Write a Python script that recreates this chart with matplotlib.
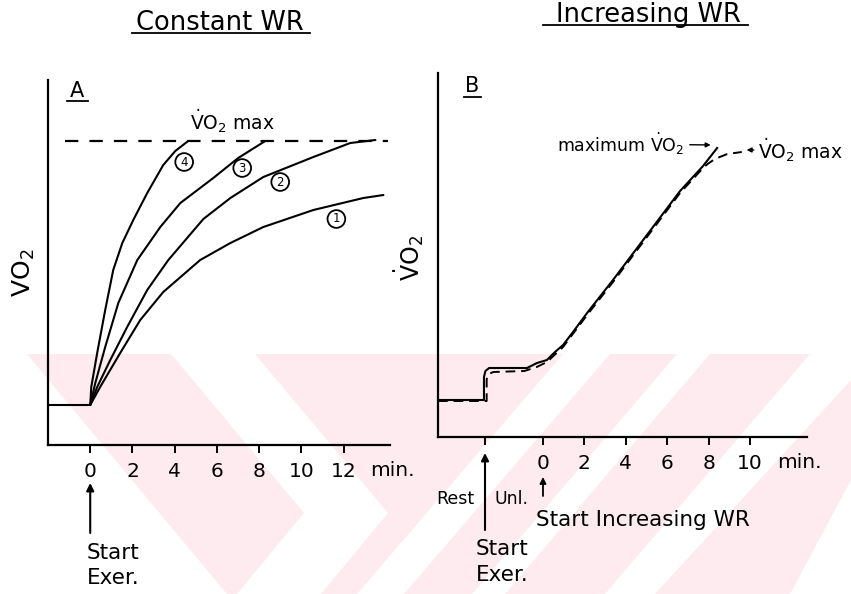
import matplotlib
matplotlib.use("Agg")
import matplotlib.pyplot as plt
from matplotlib.lines import Line2D
from matplotlib.patches import Polygon

W, H = 851, 594
plt.rcParams["font.family"] = ["DejaVu Sans"]
plt.rcParams["mathtext.fontset"] = "dejavusans"

# ---------------- Panel A: constant work rate ----------------
rest_a_t = [-2.0, 0.0]
rest_a_v = [0.40, 0.40]
vo2max_a_level = 3.04
vo2max_a_span = [-1.18, 14.1]

c1_t = [0, 0.47, 1.42, 2.37, 3.46, 5.21, 6.64, 8.20, 10.57, 12.94, 13.89]
c1_v = [0.40, 0.58, 0.92, 1.25, 1.53, 1.85, 2.02, 2.18, 2.35, 2.47, 2.50]
c2_t = [0, 0.33, 0.95, 1.75, 2.70, 3.70, 5.36, 6.64, 8.20, 10.57, 12.32, 13.51]
c2_v = [0.40, 0.58, 0.85, 1.18, 1.55, 1.85, 2.26, 2.47, 2.68, 2.88, 3.02, 3.05]
c3_t = [0, 0.24, 0.71, 1.33, 2.23, 3.32, 4.27, 5.83, 7.01, 8.29]
c3_v = [0.40, 0.62, 0.98, 1.42, 1.85, 2.18, 2.42, 2.67, 2.87, 3.04]
c4_t = [0, 0.05, 0.33, 0.71, 1.09, 1.52, 2.04, 2.70, 3.46, 4.03, 4.64]
c4_v = [0.40, 0.58, 0.92, 1.35, 1.75, 2.02, 2.25, 2.52, 2.80, 2.94, 3.04]
curve_labels = ["1", "2", "3", "4"]
curve_label_pos = [(11.66, 2.26), (9.0, 2.63), (7.2, 2.77), (4.45, 2.83)]
ticks_a = [0, 2, 4, 6, 8, 10, 12]
ticklabels_a = ["0", "2", "4", "6", "8", "10", "12"]

# ---------------- Panel B: increasing work rate ----------------
solid_b_t = [-5.07, -2.85, -2.85, -2.78, -2.6, -0.77, -0.29, 0.19, 0.58, 0.97,
             1.45, 2.13, 3.38, 5.02, 6.62, 7.73, 8.41]
solid_b_v = [0.37, 0.37, 0.60, 0.66, 0.69, 0.69, 0.74, 0.77, 0.85, 0.92,
             1.05, 1.24, 1.57, 2.02, 2.46, 2.71, 2.89]
dashed_b_t = [-5.07, -2.72, -2.72, -2.62, -2.4, -0.9, -0.3, 0.19, 0.97, 2.13,
              3.38, 5.02, 6.62, 7.73, 7.95, 8.3, 8.9, 9.6]
dashed_b_v = [0.36, 0.36, 0.58, 0.63, 0.65, 0.66, 0.70, 0.75, 0.90, 1.22,
              1.55, 2.00, 2.44, 2.69, 2.73, 2.78, 2.83, 2.85]
start_exer_b = -2.8
ticks_b = [start_exer_b, 0, 2, 4, 6, 8, 10]
ticklabels_b = ["", "0", "2", "4", "6", "8", "10"]


def fx(px):
    return px / W


def fy(py):
    return 1 - py / H


def fpts(pts):
    return [(fx(x), fy(y)) for x, y in pts]


fig = plt.figure(figsize=(W / 100, H / 100), dpi=100)
fig.patch.set_facecolor("white")

# Pale pink background print behind the lower part of the page
PINK = "#fdebef"
fig.add_artist(Polygon(fpts([(27, 354), (851, 354), (851, 594), (227, 594)]),
                       closed=True, transform=fig.transFigure, fc=PINK,
                       ec="none", zorder=-3))
white_bands = [
    [(171, 354), (255, 354), (388, 513), (304, 513)],
    [(304, 513), (388, 513), (321, 594), (237, 594)],
    [(563, 354), (610, 354), (404, 594), (357, 594)],
    [(677, 354), (710, 354), (505, 594), (472, 594)],
    [(810, 354), (851, 354), (851, 380), (655, 594), (605, 594)],
    [(851, 480), (851, 594), (790, 594)],
]
for band in white_bands:
    fig.add_artist(Polygon(fpts(band), closed=True, transform=fig.transFigure,
                           fc="white", ec="none", zorder=-2))

axA = fig.add_axes([fx(48), fy(445), 342 / W, 365 / H])
axB = fig.add_axes([fx(438), fy(437), 369 / W, 364 / H])

for ax in (axA, axB):
    ax.set_facecolor("none")
    for s in ("top", "right"):
        ax.spines[s].set_visible(False)
    for s in ("left", "bottom"):
        ax.spines[s].set_linewidth(1.6)
    ax.set_yticks([])
    ax.tick_params(axis="x", direction="out", length=6, width=1.4,
                   pad=6, labelsize=14.5)

LW = 1.5

# Panel A
axA.set_xlim(-2.0, 14.2)
axA.set_ylim(0, 3.65)
axA.plot(rest_a_t, rest_a_v, color="black", lw=LW)
for t, v in ((c1_t, c1_v), (c2_t, c2_v), (c3_t, c3_v), (c4_t, c4_v)):
    axA.plot(t, v, color="black", lw=LW, solid_capstyle="round",
             solid_joinstyle="round")
axA.plot(vo2max_a_span, [vo2max_a_level] * 2, color="black", lw=1.6,
         dashes=(6, 5))
for lab, (t, v) in zip(curve_labels, curve_label_pos):
    axA.text(t, v, lab, ha="center", va="center", fontsize=8.5,
             bbox=dict(boxstyle="circle,pad=0.2", fc="white", ec="black", lw=1.3))
axA.set_xticks(ticks_a)
axA.set_xticklabels(ticklabels_a)
axA.set_ylabel(r"$\mathrm{VO_2}$", fontsize=18)
axA.yaxis.set_label_coords(-0.032, 0.471)

# Panel B
axB.set_xlim(-5.07, 12.75)
axB.set_ylim(0, 3.64)
axB.plot(solid_b_t, solid_b_v, color="black", lw=LW, solid_joinstyle="round")
axB.plot(dashed_b_t, dashed_b_v, color="black", lw=1.4, dashes=(5, 3))
axB.set_xticks(ticks_b)
axB.set_xticklabels(ticklabels_b)
axB.set_ylabel(r"$\dot{\mathrm{V}}\mathrm{O_2}$", fontsize=17)
axB.yaxis.set_label_coords(-0.0325, 0.492)

# Titles with underlines
fig.text(fx(220), fy(30), "Constant WR", ha="center", va="baseline", fontsize=18.5)
fig.add_artist(Line2D([fx(132), fx(310)], [fy(33), fy(33)], color="black", lw=1.3))
fig.text(fx(648), fy(22), "Increasing WR", ha="center", va="baseline", fontsize=18.5)
fig.add_artist(Line2D([fx(543), fx(748)], [fy(25), fy(25)], color="black", lw=1.3))

# Panel letters
fig.text(fx(77), fy(97), "A", ha="center", va="baseline", fontsize=15)
fig.add_artist(Line2D([fx(67), fx(88)], [fy(101), fy(101)], color="black", lw=1.3))
fig.text(fx(472), fy(92), "B", ha="center", va="baseline", fontsize=15)
fig.add_artist(Line2D([fx(464), fx(481)], [fy(97), fy(97)], color="black", lw=1.3))

# Axis units
fig.text(fx(370), fy(471), "min.", ha="left", va="center", fontsize=14.5)
fig.text(fx(777), fy(463), "min.", ha="left", va="center", fontsize=14.5)

# VO2max annotations
fig.text(fx(190), fy(121), r"$\dot{\mathrm{V}}\mathrm{O_2}$ max", ha="left",
         va="center", fontsize=13.5)
axB.annotate(r"maximum $\dot{\mathrm{V}}\mathrm{O_2}$", xy=(8.3, 2.92),
             xytext=(fx(557), fy(144)), textcoords="figure fraction",
             ha="left", va="center", fontsize=12.5,
             arrowprops=dict(arrowstyle="-|>", color="black", lw=1.0,
                             mutation_scale=7, shrinkA=2, shrinkB=3))
axB.annotate(r"$\dot{\mathrm{V}}\mathrm{O_2}$ max", xy=(9.7, 2.87),
             xytext=(fx(758), fy(150)), textcoords="figure fraction",
             ha="left", va="center", fontsize=13.5,
             arrowprops=dict(arrowstyle="-|>", color="black", lw=1.0,
                             mutation_scale=7, shrinkA=1, shrinkB=2))

# Start-of-exercise arrows and notes
arrow_kw = dict(arrowstyle="-|>", color="black", lw=1.5, mutation_scale=11,
                shrinkA=0, shrinkB=0)
axA.annotate("", xy=(0, fy(483)), xytext=(0, fy(533)),
             xycoords=("data", "figure fraction"),
             textcoords=("data", "figure fraction"), arrowprops=arrow_kw)
fig.text(fx(87), fy(553), "Start", ha="left", va="center", fontsize=15.5)
fig.text(fx(87), fy(578), "Exer.", ha="left", va="center", fontsize=15.5)

axB.annotate("", xy=(start_exer_b, fy(453)), xytext=(start_exer_b, fy(530)),
             xycoords=("data", "figure fraction"),
             textcoords=("data", "figure fraction"), arrowprops=arrow_kw)
axB.annotate("", xy=(0, fy(477)), xytext=(0, fy(496)),
             xycoords=("data", "figure fraction"),
             textcoords=("data", "figure fraction"),
             arrowprops=dict(arrowstyle="-|>", color="black", lw=1.3,
                             mutation_scale=9, shrinkA=0, shrinkB=0))
fig.text(fx(436), fy(499), "Rest", ha="left", va="center", fontsize=12.5)
fig.text(fx(494), fy(499), "Unl.", ha="left", va="center", fontsize=12.5)
fig.text(fx(536), fy(520), "Start Increasing WR", ha="left", va="center",
         fontsize=15.5)
fig.text(fx(476), fy(549), "Start", ha="left", va="center", fontsize=15.5)
fig.text(fx(476), fy(575), "Exer.", ha="left", va="center", fontsize=15.5)

fig.savefig("out.png", dpi=100, facecolor="white")
